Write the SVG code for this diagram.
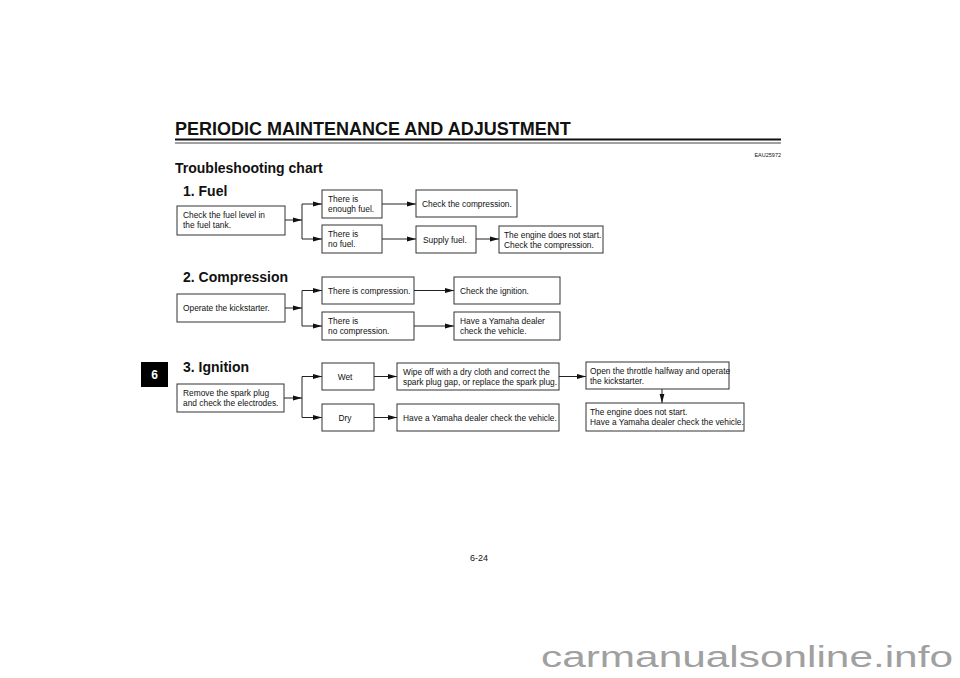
<svg xmlns="http://www.w3.org/2000/svg" width="960" height="678" viewBox="0 0 960 678">
<style>
  text { font-family: "Liberation Sans", Arial, sans-serif; fill: #111; }
  .t { font-size: 8.4px; }
  .h { font-size: 14px; font-weight: bold; }
  .box { fill: #fff; stroke: #333; stroke-width: 1; }
  .ln { fill: none; stroke: #222; stroke-width: 1; }
  .ar { fill: none; stroke: #222; stroke-width: 1; marker-end: url(#ah); }
</style>
<defs>
  <marker id="ah" viewBox="0 0 9 6" refX="9" refY="3" markerWidth="9" markerHeight="6" markerUnits="userSpaceOnUse" orient="auto">
    <path d="M0,0.6 L9,3 L0,5.4 z" fill="#111"/>
  </marker>
</defs>
<rect width="960" height="678" fill="#fff"/>

<g id="header">
  <text x="175" y="135" style="font-size:18px;font-weight:bold">PERIODIC MAINTENANCE AND ADJUSTMENT</text>
  <line x1="175" y1="139.5" x2="781" y2="139.5" stroke="#111" stroke-width="2"/>
  <line x1="175" y1="143" x2="781" y2="143" stroke="#111" stroke-width="0.8"/>
  <text x="781" y="157" text-anchor="end" style="font-size:5.5px">EAU25972</text>
  <text x="175" y="173" style="font-size:14px;font-weight:bold">Troubleshooting chart</text>
</g>

<g id="tab">
  <rect x="141" y="362" width="27" height="25" fill="#000"/>
  <text x="154.5" y="379" text-anchor="middle" style="font-size:12px;font-weight:bold;fill:#fff">6</text>
</g>

<g id="headings">
  <text class="h" x="183" y="196">1. Fuel</text>
  <text class="h" x="183" y="282">2. Compression</text>
  <text class="h" x="183" y="372">3. Ignition</text>
</g>

<g id="connectors">
  <line class="ar" x1="285" y1="220" x2="302" y2="220"/>
  <line class="ln" x1="302" y1="204" x2="302" y2="239"/>
  <line class="ar" x1="302" y1="204" x2="322" y2="204"/>
  <line class="ar" x1="302" y1="239" x2="322" y2="239"/>
  <line class="ar" x1="382" y1="204" x2="416" y2="204"/>
  <line class="ar" x1="382" y1="239" x2="416" y2="239"/>
  <line class="ar" x1="476" y1="239" x2="499" y2="239"/>

  <line class="ar" x1="285" y1="308" x2="302" y2="308"/>
  <line class="ln" x1="302" y1="290.5" x2="302" y2="326"/>
  <line class="ar" x1="302" y1="290.5" x2="322" y2="290.5"/>
  <line class="ar" x1="302" y1="326" x2="322" y2="326"/>
  <line class="ar" x1="414" y1="290.5" x2="454" y2="290.5"/>
  <line class="ar" x1="414" y1="326" x2="454" y2="326"/>

  <line class="ar" x1="284" y1="398" x2="302" y2="398"/>
  <line class="ln" x1="302" y1="376.5" x2="302" y2="417.5"/>
  <line class="ar" x1="302" y1="376.5" x2="322" y2="376.5"/>
  <line class="ar" x1="302" y1="417.5" x2="322" y2="417.5"/>
  <line class="ar" x1="374" y1="376.5" x2="397" y2="376.5"/>
  <line class="ar" x1="374" y1="417.5" x2="397" y2="417.5"/>
  <line class="ar" x1="559" y1="376.5" x2="586" y2="376.5"/>
  <line class="ar" x1="662" y1="389" x2="662" y2="403"/>
</g>

<g id="n1"><rect class="box" x="177" y="206" width="108" height="29"/>
  <text class="t" x="183" y="218">Check the fuel level in</text><text class="t" x="183" y="228">the fuel tank.</text></g>
<g id="n2"><rect class="box" x="322" y="190" width="60" height="28"/>
  <text class="t" x="328" y="202">There is</text><text class="t" x="328" y="212">enough fuel.</text></g>
<g id="n3"><rect class="box" x="322" y="225" width="60" height="28"/>
  <text class="t" x="328" y="237">There is</text><text class="t" x="328" y="247">no fuel.</text></g>
<g id="n4"><rect class="box" x="416" y="190" width="101" height="27"/>
  <text class="t" x="422" y="206.5">Check the compression.</text></g>
<g id="n5"><rect class="box" x="416" y="226" width="60" height="27"/>
  <text class="t" x="423" y="242.5">Supply fuel.</text></g>
<g id="n6"><rect class="box" x="499" y="226" width="104" height="27"/>
  <text class="t" x="504" y="237.5">The engine does not start.</text><text class="t" x="504" y="247.5">Check the compression.</text></g>

<g id="n7"><rect class="box" x="177" y="294" width="108" height="28"/>
  <text class="t" x="183" y="311">Operate the kickstarter.</text></g>
<g id="n8"><rect class="box" x="322" y="277" width="92" height="27"/>
  <text class="t" x="328" y="293.5">There is compression.</text></g>
<g id="n9"><rect class="box" x="322" y="312" width="92" height="28"/>
  <text class="t" x="328" y="324">There is</text><text class="t" x="328" y="334">no compression.</text></g>
<g id="n10"><rect class="box" x="454" y="277" width="106" height="27"/>
  <text class="t" x="460" y="293.5">Check the ignition.</text></g>
<g id="n11"><rect class="box" x="454" y="312" width="106" height="28"/>
  <text class="t" x="460" y="324">Have a Yamaha dealer</text><text class="t" x="460" y="334">check the vehicle.</text></g>

<g id="n12"><rect class="box" x="177" y="384" width="107" height="28"/>
  <text class="t" x="183" y="396">Remove the spark plug</text><text class="t" x="183" y="406">and check the electrodes.</text></g>
<g id="n13"><rect class="box" x="322" y="363" width="52" height="27"/>
  <text class="t" x="345" y="379.5" text-anchor="middle">Wet</text></g>
<g id="n14"><rect class="box" x="322" y="404" width="52" height="27"/>
  <text class="t" x="345" y="420.5" text-anchor="middle">Dry</text></g>
<g id="n15"><rect class="box" x="397" y="363" width="162" height="27"/>
  <text class="t" x="403" y="374.5">Wipe off with a dry cloth and correct the</text><text class="t" x="403" y="384.5">spark plug gap, or replace the spark plug.</text></g>
<g id="n16"><rect class="box" x="397" y="404" width="162" height="27"/>
  <text class="t" x="403" y="420.5">Have a Yamaha dealer check the vehicle.</text></g>
<g id="n17"><rect class="box" x="586" y="362" width="143" height="27"/>
  <text class="t" x="590" y="373.5">Open the throttle halfway and operate</text><text class="t" x="590" y="383.5">the kickstarter.</text></g>
<g id="n18"><rect class="box" x="586" y="403" width="158" height="28"/>
  <text class="t" x="590" y="415">The engine does not start.</text><text class="t" x="590" y="425">Have a Yamaha dealer check the vehicle.</text></g>

<g id="footer">
  <text x="479" y="561" text-anchor="middle" style="font-size:9px">6-24</text>
  <text x="541" y="667" textLength="412" lengthAdjust="spacingAndGlyphs" style="font-size:29px;fill:#a0a0a0">carmanualsonline.info</text>
</g>
</svg>
